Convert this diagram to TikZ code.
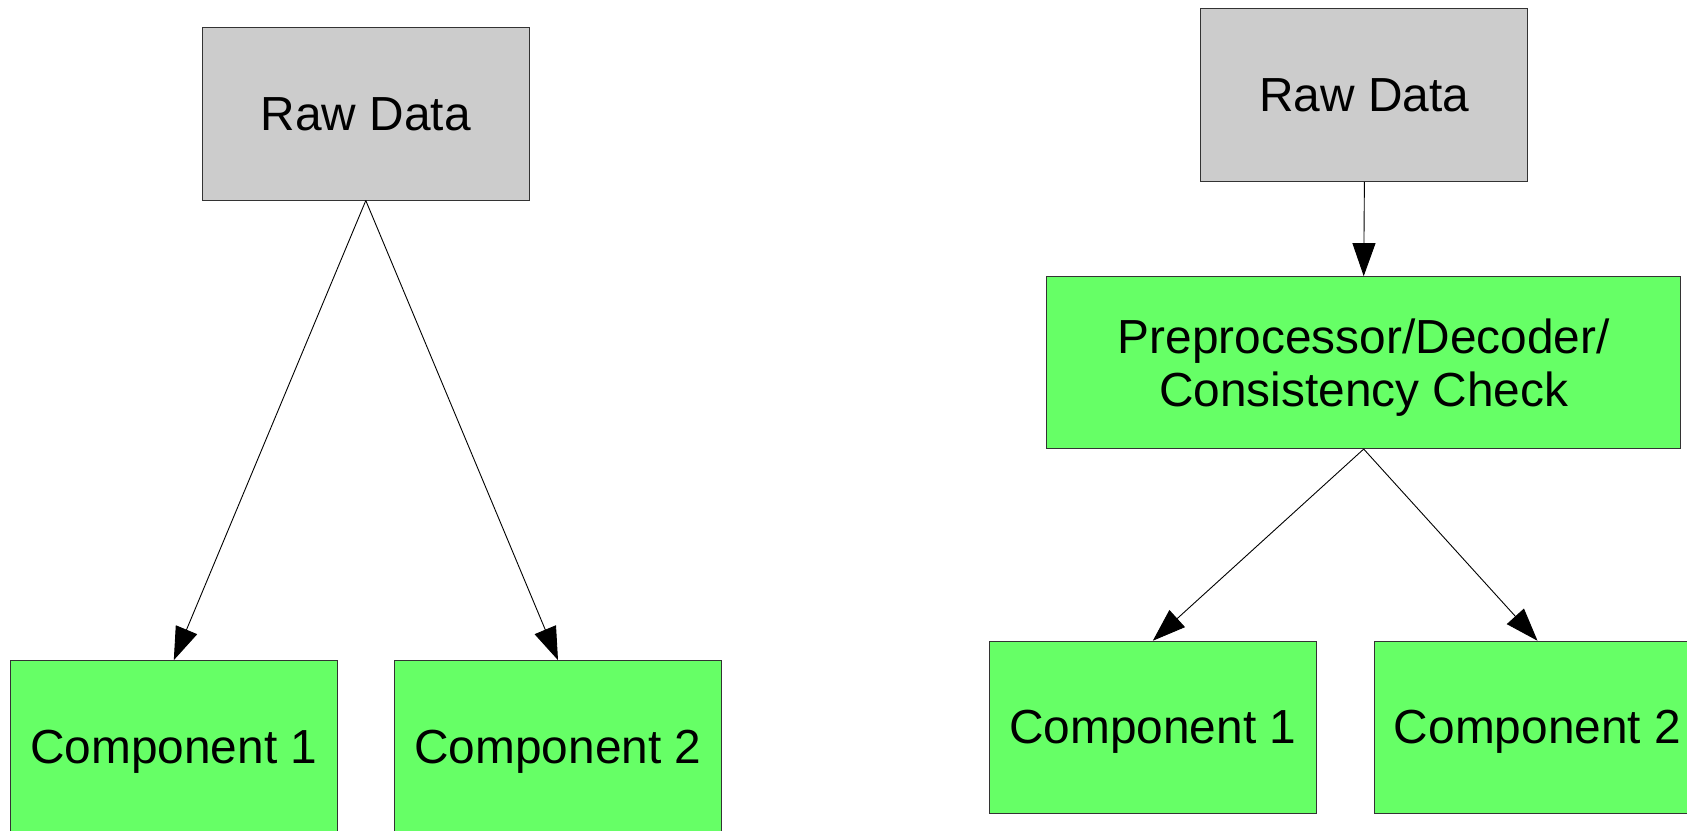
\documentclass[tikz,border=0pt]{standalone}
\usepackage{fontspec}
\setmainfont{Liberation Sans}
\usetikzlibrary{arrows.meta}
\definecolor{rawgray}{HTML}{CCCCCC}
\definecolor{stagegreen}{HTML}{66FF66}
\definecolor{edgegray}{HTML}{333333}
\tikzset{
  box/.style={draw=edgegray, line width=0.9bp, minimum width=327bp, minimum height=173bp,
    inner sep=0pt, align=center, text depth=0bp, font=\fontsize{48}{54}\selectfont},
  rawbox/.style={box, fill=rawgray},
  greenbox/.style={box, fill=stagegreen},
  flow/.style={draw=black, line width=0.9bp, -{Triangle[length=33bp,width=23bp]}}
}
\begin{document}
\begin{tikzpicture}[x=1bp,y=-1bp]
  \useasboundingbox (0,0) rectangle (1687,831);
  \clip (0,0) rectangle (1687,831);

  % direct split
  \node[rawbox]   (rawA)  at (365.8,113.6) {Raw Data};
  \node[greenbox] (compA) at (173.8,747.1) {Component 1};
  \node[greenbox] (compB) at (558.0,747.1) {Component 2};
  \draw[flow] (rawA.south) -- (compA.north);
  \draw[flow] (rawA.south) -- (compB.north);

  % split after preprocessing
  \node[rawbox]   (rawB)  at (1364.4,94.8) {Raw Data};
  \node[greenbox, minimum width=634bp, minimum height=172bp]
                  (prep)  at (1363.7,362.6) {Preprocessor/Decoder/\\Consistency Check};
  \node[greenbox, minimum height=172bp] (compC) at (1152.8,727.2) {Component 1};
  \node[greenbox, minimum height=172bp] (compD) at (1537.5,727.2) {Component 2};
  \draw[flow] (rawB.south) -- (prep.north);
  \draw[flow] (prep.south) -- (compC.north);
  \draw[flow] (prep.south) -- (compD.north);
\end{tikzpicture}
\end{document}
